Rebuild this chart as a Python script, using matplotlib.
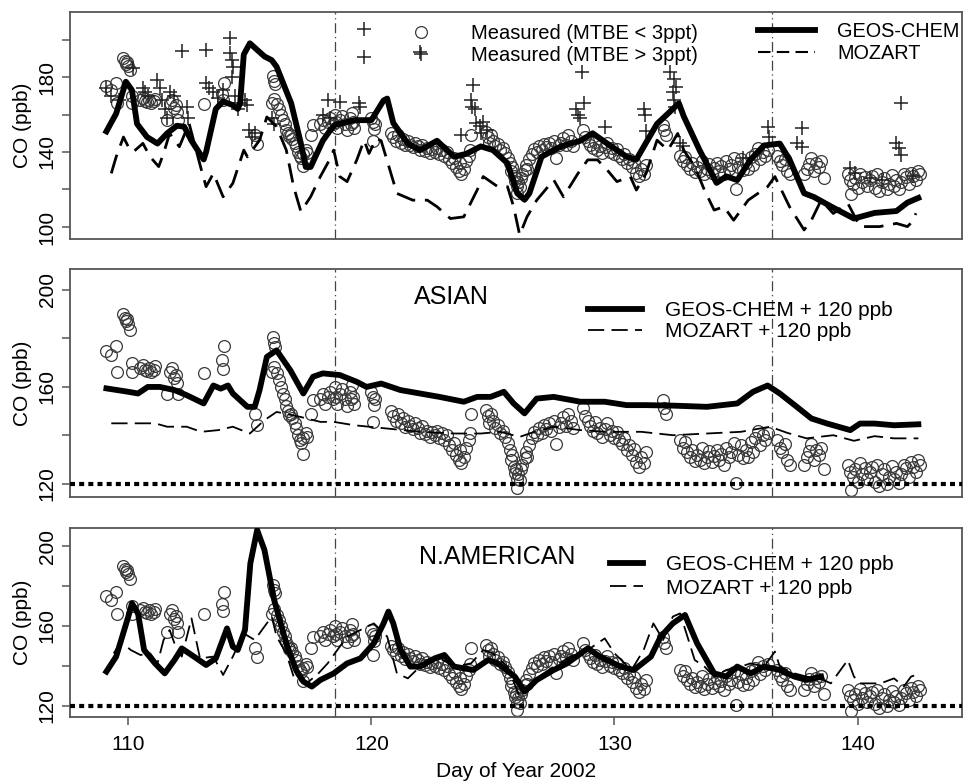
import matplotlib
matplotlib.use("Agg")
import matplotlib.pyplot as plt
from matplotlib.lines import Line2D

plt.rcParams['font.family'] = ['Liberation Sans', 'DejaVu Sans']

# measured CO (ppb), day of year 2002
meas_day = [109.1, 109.3, 109.5, 109.55, 109.8, 109.85, 109.9, 109.95, 110.0, 110.05, 110.15, 110.15,
            110.5, 110.6, 110.7, 110.75, 110.85, 110.95, 111.05, 111.1,
            111.6, 111.7, 111.8, 111.9, 112.0, 112.05, 111.95,
            113.1, 113.85, 113.9, 113.95, 115.2, 115.3,
            115.95, 116.0, 116.05, 116.0, 115.9, 116.1, 116.2, 116.3, 116.35, 116.45, 116.5, 116.55,
            116.6, 116.7, 116.75, 116.85, 116.9, 117.0, 117.05, 117.1, 117.2, 117.2, 117.3, 117.35,
            117.5, 117.6, 117.9, 118.0, 118.1, 118.2,
            118.3, 118.4, 118.5, 118.55, 118.6, 118.7, 118.8, 118.9, 119.0, 119.1, 119.15, 119.2, 119.25, 119.3,
            120.0, 120.05, 120.1, 120.05, 120.15,
            120.8, 120.9, 121.0, 121.1, 121.2, 121.3, 121.4, 121.5, 121.6, 121.7, 121.8, 121.9,
            122.0, 122.1, 122.2, 122.3, 122.4, 122.5, 122.6, 122.7, 122.8, 122.9, 123.0,
            123.1, 123.2, 123.3, 123.4, 123.5, 123.6, 123.65, 123.7, 123.8, 123.9, 124.0, 124.05, 124.1,
            124.7, 124.8, 124.85, 124.9, 125.0, 125.1, 125.2, 125.3, 125.4, 125.5, 125.6,
            125.7, 125.75, 125.8, 125.85, 125.9, 125.95, 126.0, 126.0, 126.05, 126.1, 126.15, 126.2,
            126.3, 126.35, 126.4, 126.5,
            126.6, 126.7, 126.8, 126.9, 127.0, 127.1, 127.2, 127.3, 127.4, 127.5, 127.6, 127.7, 127.8,
            127.9, 128.0, 128.1, 128.2, 128.3,
            128.7, 128.8, 128.9, 129.0, 129.1, 129.2, 129.3, 129.4, 129.5, 129.6, 129.7, 129.8, 129.9,
            130.0, 130.1, 130.2,
            130.3, 130.4, 130.5, 130.6, 130.7, 130.8, 130.9, 131.0, 131.1, 131.2, 131.3,
            132.0, 132.05, 132.1,
            132.7, 132.8, 132.9, 133.0, 133.1, 133.2, 133.3, 133.4, 133.5, 133.6, 133.7, 133.8, 133.9,
            134.0, 134.1, 134.2, 134.3, 134.4, 134.5, 134.6, 134.7, 134.8, 134.9, 135.0, 135.1, 135.2,
            135.3, 135.4, 135.5, 135.6, 135.7, 135.8, 135.9, 136.0, 136.1, 136.2, 136.3,
            136.7, 136.8, 136.9, 137.0, 137.1, 137.2,
            137.8, 137.9, 138.0, 138.1, 138.2, 138.3, 138.4, 138.5, 138.6,
            139.6, 139.7, 139.75, 139.8, 139.9, 140.0, 140.1, 140.2, 140.3, 140.4, 140.5, 140.6, 140.7,
            140.8, 140.9, 141.0, 141.1, 141.2, 141.3, 141.4, 141.5, 141.6, 141.7, 141.8, 141.9, 142.0,
            142.1, 142.2, 142.3, 142.4, 142.5, 142.55]
meas_co = [175, 173, 177, 166, 190, 188.5, 187, 188, 186, 183.5, 170, 166,
           168, 169, 167, 166.5, 168, 166, 167, 168.5,
           157, 166, 168, 163.5, 161.5, 157, 165,
           165.8, 171, 167.5, 177, 149, 144.5,
           180.6, 178, 176.5, 168.3, 166, 165.7, 163, 160, 157, 155, 152, 150,
           148.5, 149, 147, 145, 143, 140, 138, 137, 132.5, 139, 141, 139.5,
           149, 154.6, 155, 157, 153, 156,
           158, 155, 160, 156, 153, 157, 159, 155, 152, 158, 155, 161, 156, 153,
           158, 156, 152.5, 145.7, 155,
           150, 148, 146, 149, 145, 147, 143.5, 146, 144, 142.5, 145, 143,
           141, 144, 140.5, 142, 139.5, 141.5, 140, 142, 139, 141, 138,
           140, 136, 134, 137, 132, 130, 134, 128.5, 131, 135, 138, 141, 149,
           150.5, 148, 145, 149, 146, 143, 144.5, 141, 142, 139.5, 137,
           134, 130, 132, 127, 124.5, 126, 122, 118.2, 124, 121.5, 126, 128,
           130.5, 133, 131, 136,
           139, 141.5, 140, 143, 141, 144.5, 142.5, 145, 142, 146, 136.6, 143.5, 145,
           147.5, 144, 149, 146, 143,
           151.5, 148, 146, 144, 142, 145.5, 141, 143, 139.5, 142.5, 145, 140, 142,
           139, 141.5, 138,
           136.5, 139, 134, 136, 132, 134.5, 129, 127, 131, 128.5, 133,
           154.6, 151.5, 149,
           138, 135, 137.5, 133, 131, 134, 129.5, 132, 130, 135, 128.5, 131, 133.5,
           129, 131.5, 134, 130, 132.5, 128, 135, 131, 133, 137, 120.3, 132, 136,
           130.5, 134, 131, 137.5, 133, 139, 142, 136, 140, 138, 141,
           138, 135, 133, 136.5, 130, 128,
           128, 131, 133.5, 136.6, 130, 134, 132, 135, 126,
           128, 125, 117.5, 123, 126, 121, 128.5, 124, 126.5, 122, 125, 127, 121,
           128, 119, 124, 126, 120, 123, 127.5, 122, 125, 120.5, 124, 128, 126.5,
           123, 129, 127, 125, 130, 128]

# measured with MTBE > 3 ppt
mtbe_day = [109.1, 109.3, 109.6, 110.2, 110.6, 110.7, 110.8, 111.2, 111.3, 111.4, 111.5, 111.6, 111.7,
            111.9, 112.2, 112.4, 112.45, 113.2, 113.2, 113.3, 113.5, 113.7, 113.9, 114.17, 114.2,
            114.25, 114.3, 114.25, 114.4, 114.6, 114.5, 114.8, 114.9, 114.95, 115.1, 115.2, 115.9,
            116.0, 118.2, 118.0, 118.3, 118.7, 119.5, 119.55, 119.68, 119.68, 122.0, 123.7, 124.2,
            124.1, 124.15, 124.25, 124.3, 124.45, 124.6, 124.75, 124.5, 128.67, 128.75, 128.4,
            128.5, 128.6, 129.6, 131.2, 131.25, 131.3, 132.3, 132.45, 132.55, 132.4, 132.45, 132.5,
            132.7, 132.8, 135.3, 136.3, 136.35, 137.5, 137.7, 137.7, 139.7, 139.9, 140.5, 141.0,
            141.6, 141.7, 141.8, 141.77, 142.3]
mtbe_co = [174, 170, 168, 184.6, 174, 172, 170, 178.4, 174, 168, 163, 158, 172,
           170, 194, 164, 158, 194.5, 177, 174, 172, 169, 173, 200.6, 192.6,
           189, 185.5, 180.2, 170, 166, 163, 168, 165, 151.7, 148.2, 150, 158,
           155, 167.7, 160, 158, 166.8, 166, 164, 205.4, 190.8, 193.5, 149, 175.7,
           167.7, 164.1, 163, 155.3, 154, 156, 151.7, 150, 182.8, 166, 163,
           160, 158, 153.5, 163, 160, 151, 182.8, 179.2, 174.8, 172, 167.7, 164,
           144.6, 143, 137, 153.5, 148.2, 144.6, 152.6, 142.8, 131.3, 128.6, 126, 125,
           144.6, 142, 138.6, 166, 127]

# model runs, top panel
geos_day = [109.1, 109.5, 109.9, 110.15, 110.36, 110.77, 111.2, 111.6, 112.0, 112.3, 112.6, 113.1,
            113.2, 113.6, 113.9, 114.3, 114.5, 114.6, 114.75, 115.0, 115.6, 115.9, 116.1, 116.7,
            117.1, 117.3, 117.5, 118.0, 118.3, 118.5, 119.3, 120.0, 120.5, 120.65, 120.9, 121.5,
            122.0, 122.7, 123.4, 123.9, 124.5, 125.0, 125.6, 126.0, 126.3, 126.5, 127.0, 127.8,
            128.6, 129.1, 129.7, 130.5, 130.9, 131.3, 131.75, 132.65, 132.85, 133.5, 134.2, 134.6,
            135.05, 135.6, 136.15, 136.8, 137.2, 137.8, 138.2, 138.9, 139.85, 140.7, 141.6, 142.05,
            142.5]
geos_co = [151, 160.5, 177.5, 173, 155, 148, 144.5, 150, 154, 153.5, 146, 136,
           140, 163, 167, 165, 163, 166, 192, 198, 191, 189, 185.5, 166,
           144.5, 132, 132, 146, 151.5, 154.5, 157, 157, 167.5, 168.5, 155.5, 144.5,
           141, 146, 137.5, 139, 143, 141, 134, 118, 114.5, 118, 137.5, 143,
           146, 150, 144.5, 137.5, 136, 145, 155, 166, 159, 141, 123.5, 127,
           125, 136, 143.5, 144.5, 136, 118, 116, 111, 104.5, 107.5, 108.5, 113,
           115.5]
moz_day = [109.3, 109.5, 109.8, 110.0, 110.2, 110.6, 110.9, 111.25, 111.45, 111.7, 112.1, 112.5,
           112.97, 113.2, 113.5, 113.9, 114.3, 114.75, 114.9, 115.4, 115.7, 116.1, 116.5, 116.8,
           117.1, 117.5, 117.9, 118.2, 118.45, 118.7, 119.0, 119.4, 119.7, 119.9, 120.2, 120.4,
           120.6, 121.05, 121.7, 122.3, 122.7, 123.25, 123.8, 124.35, 124.6, 125.2, 125.6, 125.85,
           126.1, 126.4, 126.8, 127.5, 127.9, 128.5, 128.9, 129.3, 129.7, 130.1, 130.65, 130.9,
           131.3, 131.75, 132.2, 132.6, 132.85, 133.3, 133.7, 134.1, 134.5, 134.9, 135.5, 135.9,
           136.3, 136.6, 136.8, 137.2, 137.8, 138.1, 138.5, 139.0, 139.6, 140.1, 140.9, 141.6,
           142.05, 142.25, 142.4]
moz_co = [128.6, 137.4, 148, 142.8, 140, 144.6, 137.4, 132.2, 139.2, 149.9, 142.8, 155.3,
          132.2, 121.5, 128.6, 116.1, 123.3, 141, 137.4, 146.3, 158.7, 153.5, 141, 121.5,
          108.2, 116.1, 126.9, 134, 141, 126.9, 124.2, 135.8, 146.3, 139.2, 147.2, 146,
          137.4, 117.9, 114.3, 114.3, 110.8, 104.5, 105.4, 119.7, 126.9, 121.5, 121.5, 110.8,
          95.7, 105.4, 114.3, 125.1, 116.1, 128.6, 135.8, 135.8, 130.4, 124.2, 126.9, 119.7,
          128.6, 146.3, 141, 149.9, 141, 132.2, 119.7, 109, 110.8, 103.6, 114.3, 117.9,
          121.5, 126.9, 121.5, 110.8, 98.4, 103.6, 114.3, 107.2, 112.6, 100.2, 100.2, 101.9,
          100.2, 102.8, 107.3]

# Asian contribution + 120 ppb
asia_geos_day = [109.1, 110.0, 110.4, 110.8, 111.3, 111.9, 112.4, 113.1, 113.5, 113.8, 114.1, 114.3,
                 114.9, 115.2, 115.4, 115.7, 116.1, 116.67, 117.2, 117.6, 118.0, 118.7, 119.4, 119.8,
                 120.4, 121.2, 122.0, 122.8, 123.8, 124.35, 124.9, 125.45, 125.85, 126.3, 126.8,
                 127.5, 128.6, 129.6, 130.5, 131.3, 132.4, 133.8, 135.05, 135.7, 136.3, 136.8,
                 137.5, 138.1, 138.75, 139.7, 140.1, 140.7, 141.5, 142.5]
asia_geos_co = [159.4, 158, 157.3, 160, 160, 158.7, 156.6, 153.2, 160.6, 159.3, 160.6, 157.3,
                151.8, 151.8, 158.7, 172.4, 175.1, 166.8, 157.3, 164.2, 165.6, 164.9, 162.1, 160,
                161.4, 158.7, 157.3, 155.9, 153.9, 155.9, 155.9, 158, 153.2, 149.1, 155.2,
                155.9, 153.9, 153.9, 152.5, 152.5, 152.3, 151.8, 153.2, 158, 160.6, 157.3,
                151.8, 147, 144.9, 142.2, 144.9, 144.9, 144.2, 144.6]
asia_moz_day = [109.3, 111.1, 111.6, 112.4, 113.0, 113.7, 114.3, 115.0, 115.6, 116.1, 117.1, 117.9,
                118.45, 119.3, 120.6, 122.0, 123.4, 124.5, 125.3, 126.1, 126.7, 127.5, 128.6, 129.7,
                130.8, 131.1, 132.4, 133.8, 135.2, 136.4, 137.1, 137.9, 139.0, 139.85, 140.7,
                141.5, 142.5]
asia_moz_co = [145, 145, 143.6, 143.6, 141.5, 142.2, 143.6, 140.8, 146.3, 149.7, 147.6, 145.6,
               145.6, 144.2, 142.9, 141.5, 140.8, 140.8, 141.5, 139.4, 141.5, 143.6, 142.2, 141.5,
               141.5, 141.5, 140.1, 140.8, 141.5, 143.6, 141.1, 138.8, 140.1, 137.8, 139.7,
               138.8, 138.8]

# North American contribution + 120 ppb
nam_geos_day = [109.1, 109.5, 110.0, 110.15, 110.4, 110.65, 111.1, 111.5, 111.9, 112.2, 112.7, 113.2,
                113.6, 114.06, 114.3, 114.5, 114.8, 115.02, 115.3, 115.6, 116.0, 116.5, 116.9, 117.2,
                117.55, 117.9, 118.45, 119.0, 119.55, 120.1, 120.5, 120.7, 120.9, 121.2, 121.6,
                122.0, 122.6, 123.0, 123.4, 124.2, 124.8, 125.2, 125.9, 126.3, 126.8, 127.5, 128.05,
                128.9, 129.4, 130.25, 130.8, 131.5, 131.9, 132.4, 132.9, 133.4, 134.1, 134.6,
                135.05, 135.6, 136.15, 136.8, 137.4, 137.9, 138.5]
nam_geos_co = [137.2, 144.7, 164.7, 171.3, 166.3, 148, 141.3, 136.3, 143, 148.8, 144.7, 140.5,
               143.8, 158.8, 149.7, 148, 158, 191.3, 208, 198, 173, 151.3, 138, 132.2,
               129.7, 133, 136.3, 141.3, 143.8, 151.3, 161.3, 167.2, 161.3, 148, 139.7,
               139.7, 143.8, 145.5, 139.7, 138, 143, 141.3, 134.7, 127.2, 133, 138, 141.3,
               148.8, 144.7, 139.7, 138, 144.7, 154.7, 161.3, 165.5, 151.3, 136.3, 134.7,
               139.7, 136.3, 139.7, 138, 134.7, 133, 134.7]
nam_moz_day = [109.4, 109.7, 110.1, 110.5, 110.9, 111.2, 111.45, 111.7, 111.9, 112.2, 112.6, 112.95,
               113.5, 113.9, 114.3, 114.75, 115.2, 115.6, 115.9, 116.1, 116.5, 116.8, 117.3, 117.8,
               118.2, 118.6, 119.0, 119.55, 120.1, 120.65, 121.05, 121.5, 122.0, 122.7, 123.4,
               124.1, 124.6, 125.0, 125.6, 126.1, 126.7, 127.5, 128.2, 128.9, 129.6, 130.0, 130.7,
               131.2, 131.6, 132.0, 132.4, 132.7, 133.0, 133.3, 133.7, 134.1, 134.6, 135.2, 135.6,
               136.15, 136.6, 136.8, 137.4, 137.9, 138.6, 138.9, 139.3, 139.6, 139.85, 140.1,
               140.95, 141.5, 141.9, 142.2, 142.4]
nam_moz_co = [146.3, 152.2, 148, 145.5, 146.3, 141.3, 153, 158, 151.3, 144.7, 163.8, 143.8,
              144.7, 135.5, 144.7, 156.3, 153, 159.7, 164.7, 154.7, 146.3, 134.7, 131, 136,
              141.3, 148, 154.7, 158, 161.3, 154.7, 136.3, 133.8, 139.7, 144.7, 139.7,
              141.3, 148, 146.3, 139.7, 124.7, 133, 139.7, 144.7, 148, 153.8, 146.3, 138,
              148, 161.3, 153, 164.7, 166.3, 154.7, 143, 139.7, 134.7, 138, 139.7, 141.3,
              139.7, 147.2, 139.7, 136.3, 134.7, 133, 131.3, 138, 143, 134.7, 131.3,
              131.3, 133.8, 129.7, 134.7, 135.5]

fig = plt.figure(figsize=(9.65, 7.84), dpi=100)
ax1 = fig.add_axes([0.0725, 0.6952, 0.9245, 0.2895])
ax2 = fig.add_axes([0.0725, 0.366, 0.9245, 0.2908])
ax3 = fig.add_axes([0.0725, 0.0855, 0.9245, 0.241])

circ = dict(ls='none', marker='o', ms=8.5, mfc='none', mec='#3a3a3a', mew=0.9)
plus = dict(ls='none', marker='+', ms=10, mec='#222222', mew=1.1)
dot120 = dict(color='black', lw=3, ls=(0, (1.2, 1.0)))
moz_top = dict(color='black', lw=2.0, ls=(0, (7, 3.5)))
moz_low = dict(color='black', lw=1.3, ls=(0, (9, 4)))

for ax in (ax1, ax2, ax3):
    ax.set_xlim(107.6, 144.3)
    for d in (118.5, 136.5):
        ax.axvline(d, color='#444444', lw=0.9, ls=(0, (8, 3, 1, 3)), zorder=1)
    for s in ax.spines.values():
        s.set_color('#555555')
        s.set_linewidth(1.3)
    ax.tick_params(direction='out', length=6, width=1.1, color='#555555', labelsize=15)
    ax.set_ylabel('CO (ppb)', fontsize=15)

# top panel
ax1.plot(meas_day, meas_co, **circ, zorder=2)
ax1.plot(mtbe_day, mtbe_co, **plus, zorder=2)
ax1.plot(geos_day, geos_co, color='black', lw=4.2, solid_joinstyle='round', zorder=4)
ax1.plot(moz_day, moz_co, **moz_top, zorder=3)
ax1.set_ylim(93.6, 214.7)
ax1.set_yticks([100, 120, 140, 160, 180, 200])
ax1.set_yticklabels(['100', '', '140', '', '180', ''])
ax1.set_xticks([])

h1 = [Line2D([], [], **circ), Line2D([], [], **plus)]
leg1 = ax1.legend(h1, ['Measured (MTBE < 3ppt)', 'Measured (MTBE > 3ppt)'], loc='upper left',
                  bbox_to_anchor=(0.382, 0.945), frameon=False, fontsize=14.5, handlelength=1.0,
                  handletextpad=2.0, labelspacing=0.15, borderpad=0, borderaxespad=0)
ax1.add_artist(leg1)
h2 = [Line2D([], [], color='black', lw=4.2), Line2D([], [], color='black', lw=1.5, ls=(0, (6, 3)))]
ax1.legend(h2, ['GEOS-CHEM', 'MOZART'], loc='upper left', bbox_to_anchor=(0.771, 0.955),
           frameon=False, fontsize=14.3, handlelength=2.9, handletextpad=1.1, labelspacing=0.15,
           borderpad=0, borderaxespad=0)

# Asian panel
ax2.plot(meas_day, meas_co, **circ, zorder=2)
ax2.axhline(120, **dot120, zorder=3)
ax2.plot(asia_geos_day, asia_geos_co, color='black', lw=4.2, solid_joinstyle='round', zorder=4)
ax2.plot(asia_moz_day, asia_moz_co, **moz_low, zorder=3)
ax2.set_ylim(114.6, 208.6)
ax2.set_yticks([120, 140, 160, 180, 200])
ax2.set_yticklabels(['120', '', '160', '', '200'])
ax2.set_xticks([])
ax2.text(0.428, 0.877, 'ASIAN', transform=ax2.transAxes, fontsize=18, ha='center', va='center')
h3 = [Line2D([], [], color='black', lw=4.2), Line2D([], [], **moz_low)]
ax2.legend(h3, ['GEOS-CHEM + 120 ppb', 'MOZART + 120 ppb'], loc='upper left',
           bbox_to_anchor=(0.581, 0.86), frameon=False, fontsize=15, handlelength=2.6,
           handletextpad=1.1, labelspacing=0.1, borderpad=0, borderaxespad=0)

# North American panel
ax3.plot(meas_day, meas_co, **circ, zorder=2)
ax3.axhline(120, **dot120, zorder=3)
ax3.plot(nam_geos_day, nam_geos_co, color='black', lw=4.2, solid_joinstyle='round', zorder=4)
ax3.plot(nam_moz_day, nam_moz_co, **moz_low, zorder=3)
ax3.set_ylim(114.5, 209)
ax3.set_yticks([120, 140, 160, 180, 200])
ax3.set_yticklabels(['120', '', '160', '', '200'])
ax3.set_xticks([110, 120, 130, 140])
ax3.tick_params(axis='x', pad=7)
ax3.set_xlabel('Day of Year 2002', fontsize=15, labelpad=6)
ax3.text(0.479, 0.847, 'N.AMERICAN', transform=ax3.transAxes, fontsize=18, ha='center', va='center')
h4 = [Line2D([], [], color='black', lw=4.2), Line2D([], [], **moz_low)]
ax3.legend(h4, ['GEOS-CHEM + 120 ppb', 'MOZART + 120 ppb'], loc='upper left',
           bbox_to_anchor=(0.605, 0.855), frameon=False, fontsize=15, handlelength=1.6,
           handletextpad=1.1, labelspacing=0.2, borderpad=0, borderaxespad=0)

for ax in (ax1, ax2, ax3):
    for lab in ax.get_yticklabels():
        lab.set_rotation(90)
        lab.set_va('center')
    ax.yaxis.set_label_coords(-0.043, 0.5)

fig.savefig('out.png', dpi=100)
